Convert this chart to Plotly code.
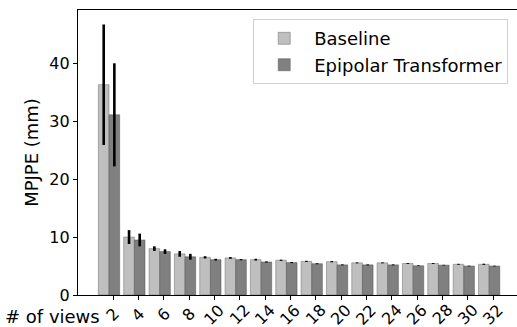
import numpy as np
import plotly.graph_objects as go

views = [2, 4, 6, 8, 10, 12, 14, 16, 18, 20, 22, 24, 26, 28, 30, 32]
baseline = [36.3, 10.0, 8.0, 7.1, 6.5, 6.4, 6.1, 6.0, 5.8, 5.75, 5.55, 5.55, 5.45, 5.45, 5.3, 5.3]
baseline_err = [10.4, 1.2, 0.4, 0.5, 0.2, 0.15, 0.15, 0.1, 0.1, 0.1, 0.08, 0.08, 0.08, 0.08, 0.08, 0.1]
epipolar = [31.1, 9.5, 7.5, 6.6, 6.1, 6.1, 5.7, 5.6, 5.4, 5.2, 5.2, 5.2, 5.05, 5.15, 5.0, 5.0]
epipolar_err = [8.9, 1.1, 0.4, 0.5, 0.15, 0.1, 0.1, 0.1, 0.08, 0.08, 0.08, 0.08, 0.06, 0.06, 0.06, 0.06]

pos = np.arange(len(views))
tickpos = pos + 0.16
font = "DejaVu Sans"

fig = go.Figure()
fig.add_trace(go.Bar(
    x=pos, y=baseline, name="Baseline",
    marker=dict(color="#bfbfbf", line=dict(color="#6a6a6a", width=0.5)),
    error_y=dict(type="data", array=baseline_err, color="black", thickness=2.6, width=0),
))
fig.add_trace(go.Bar(
    x=pos, y=epipolar, name="Epipolar Transformer",
    marker=dict(color="#808080", line=dict(color="#505050", width=0.5)),
    error_y=dict(type="data", array=epipolar_err, color="black", thickness=2.6, width=0),
))

fig.update_layout(
    width=517, height=327,
    margin=dict(l=78, r=0, t=10, b=32),
    paper_bgcolor="white", plot_bgcolor="white",
    barmode="group", bargap=0.16, bargroupgap=0,
    font=dict(family=font, size=16, color="black"),
    showlegend=True,
    legend=dict(
        x=0.98, y=0.968, xanchor="right", yanchor="top",
        bordercolor="#d0d0d0", borderwidth=1, bgcolor="white",
        font=dict(size=18), itemwidth=50, tracegroupgap=4,
    ),
    xaxis=dict(
        range=[-1.224, 16.1],
        tickvals=tickpos, showticklabels=False,
        ticks="outside", ticklen=4, tickcolor="black",
        showline=True, linecolor="black", linewidth=1.2, mirror=True,
        showgrid=False, zeroline=False, automargin=False,
    ),
    yaxis=dict(
        range=[0, 49.2],
        tickvals=[0, 10, 20, 30, 40],
        ticks="outside", ticklen=4, tickcolor="black",
        showline=True, linecolor="black", linewidth=1.2, mirror=False,
        showgrid=False, zeroline=False, automargin=False,
        title=dict(text="MPJPE (mm)", font=dict(size=18), standoff=6),
        tickfont=dict(size=16),
    ),
)

for tx, v in zip(tickpos, views):
    fig.add_annotation(
        text=str(v), xref="x", yref="paper", x=tx, y=-0.07,
        xanchor="center", yanchor="middle", textangle=-45,
        showarrow=False, font=dict(size=16),
    )

fig.add_annotation(
    text="# of views", xref="paper", yref="paper",
    x=0.055, y=-0.074, xanchor="right", yanchor="middle",
    showarrow=False, font=dict(size=18),
)

fig.write_html("out.html", post_script="document.body.style.margin='0';",
               config={"displayModeBar": False})
